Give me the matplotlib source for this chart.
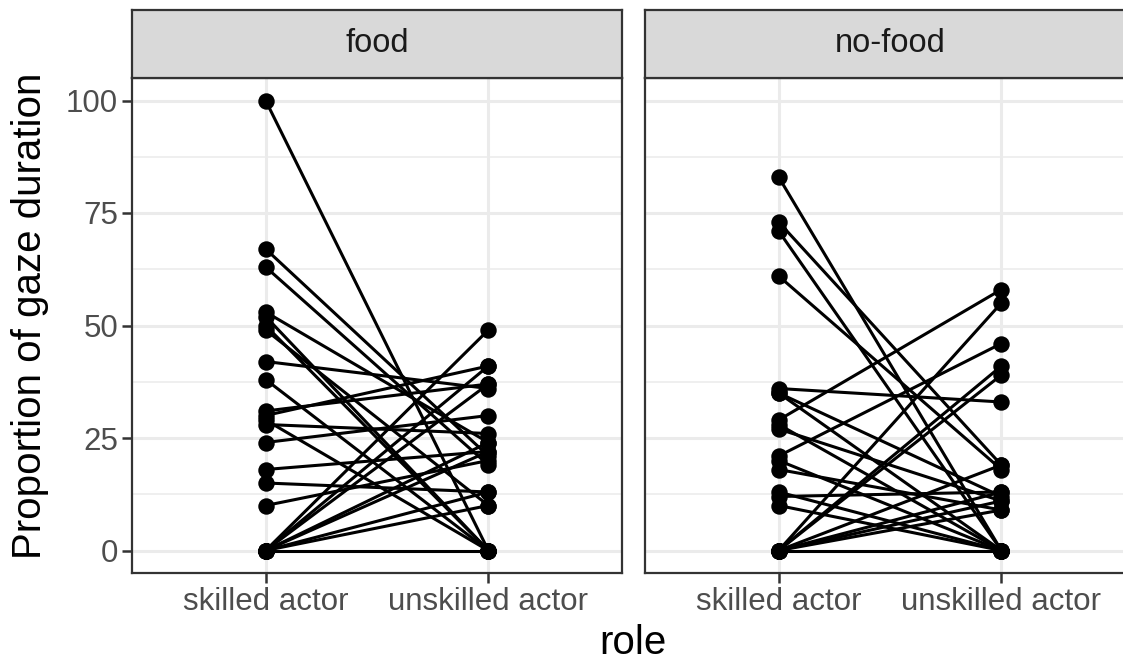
import numpy as np
import matplotlib.pyplot as plt

roles = ["skilled actor", "unskilled actor"]
conditions = ["food", "no-food"]

# gaze duration (%) per subject, skilled vs unskilled actor
food_skilled = [100, 67, 63, 53, 52, 50, 49, 42, 38, 31, 30, 29, 28, 24, 18, 15, 10,
                0, 0, 0, 0, 0, 0, 0, 0]
food_unskilled = [0, 21, 19, 24, 0, 0, 10, 36, 0, 37, 41, 0, 26, 30, 22, 13, 20,
                  49, 41, 37, 24, 13, 10, 0, 22]

nofood_skilled = [83, 73, 71, 61, 36, 35, 35, 29, 28, 27, 21, 20, 18, 13, 12, 10,
                  0, 0, 0, 0, 0, 0, 0, 0]
nofood_unskilled = [0, 19, 0, 18, 33, 12, 0, 58, 0, 11, 46, 0, 9, 0, 13, 0,
                    55, 41, 39, 13, 11, 9, 0, 19]

data = {"food": (food_skilled, food_unskilled),
        "no-food": (nofood_skilled, nofood_unskilled)}

W, H = 1123, 665
plt.rc('font', family='Liberation Sans')
fig = plt.figure(figsize=(W / 100, H / 100), dpi=100)

grey_border = "#333333"
panel_left = [132, 645]
panel_w, panel_b, panel_h = 490, 92, 495
strip_b, strip_h = 587, 68

for i, cond in enumerate(conditions):
    ax = fig.add_axes([panel_left[i] / W, panel_b / H, panel_w / W, panel_h / H])
    skilled, unskilled = data[cond]
    x = np.arange(len(roles))
    for s, u in zip(skilled, unskilled):
        ax.plot(x, [s, u], color="black", lw=2.2, zorder=3)
    ax.scatter(np.zeros(len(skilled)), skilled, s=140, color="black", zorder=4, lw=0)
    ax.scatter(np.ones(len(unskilled)), unskilled, s=140, color="black", zorder=4, lw=0)

    ax.set_xlim(-0.6, 1.6)
    ax.set_ylim(-5, 105)
    ax.set_xticks(x)
    ax.set_xticklabels(roles)
    ax.set_yticks([0, 25, 50, 75, 100])
    ax.set_yticks([12.5, 37.5, 62.5, 87.5], minor=True)
    ax.grid(which="major", color="#EBEBEB", lw=2.2, zorder=0)
    ax.grid(which="minor", axis="y", color="#EBEBEB", lw=1.1, zorder=0)
    ax.tick_params(which="minor", length=0)
    ax.tick_params(which="major", length=7, width=1.8, color=grey_border,
                   labelsize=22.5, labelcolor="#4D4D4D", pad=3)
    if i > 0:
        ax.tick_params(axis="y", left=False, labelleft=False)
    for sp in ax.spines.values():
        sp.set_color(grey_border)
        sp.set_linewidth(1.6)
    ax.set_axisbelow(True)

    # facet strip
    st = fig.add_axes([panel_left[i] / W, strip_b / H, panel_w / W, strip_h / H])
    st.set_facecolor("#D9D9D9")
    st.set_xticks([])
    st.set_yticks([])
    for sp in st.spines.values():
        sp.set_color(grey_border)
        sp.set_linewidth(1.6)
    st.text(0.5, 0.5, cond, ha="center", va="center", fontsize=23.5, color="#1A1A1A",
            transform=st.transAxes)

fig.text(633 / W, 1 - 643 / H, "role", ha="center", va="center", fontsize=29)
fig.text(30 / W, 1 - 316 / H, "Proportion of gaze duration", ha="center", va="center",
         rotation=90, fontsize=29)

fig.savefig("out.png", dpi=100)
